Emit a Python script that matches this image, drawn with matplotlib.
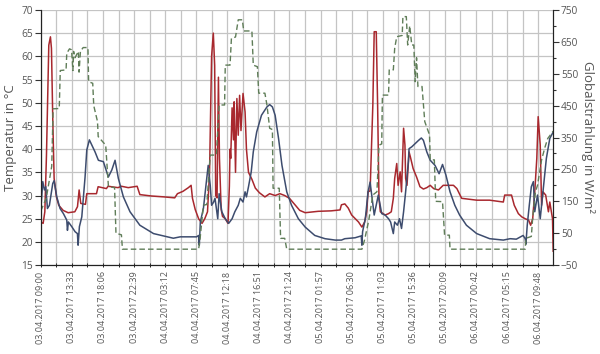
import numpy as np
import matplotlib
matplotlib.use('Agg')
import matplotlib.pyplot as plt
from matplotlib.ticker import MultipleLocator, FixedLocator

plt.rcParams['font.family'] = ['Open Sans', 'DejaVu Sans']

# time in hours since 03.04.2017 09:00
red_h = [0, 0.34, 0.59, 0.83, 1.17, 1.41, 1.56, 1.76, 1.95, 2.29,
         2.63, 3.27, 4.0, 4.98, 5.37, 5.61, 5.85, 6.54, 6.73, 8.15,
         8.39, 9.6, 9.85, 11.3, 11.8, 12.8, 14.1, 14.5, 16.2, 18.1,
         19.6, 20.0, 20.8, 21.6, 22.0, 22.2, 22.6, 23.1, 23.6, 24.0,
         24.4, 24.7, 25.0, 25.25, 25.45, 25.6, 25.8, 26.0, 26.15, 26.4,
         26.6, 27.0, 27.4, 27.6, 27.7, 27.8, 28.0, 28.2, 28.3, 28.5,
         28.7, 28.9, 29.1, 29.3, 29.6, 29.9, 30.1, 30.4, 30.9, 31.4,
         32.0, 32.8, 33.5, 34.3, 35.0, 35.7, 36.4, 37.2, 37.9, 38.7,
         40.6, 42.5, 43.8, 44.0, 44.5, 45.0, 45.5, 46.5, 47.0, 47.4,
         47.7, 47.9, 48.2, 48.6, 48.8, 49.1, 49.3, 49.5, 49.7, 50.4,
         50.9, 51.3, 51.6, 51.8, 52.1, 52.3, 52.6, 52.8, 53.1, 53.3,
         53.4, 53.6, 53.9, 54.1, 54.5, 55.0, 55.5, 56.0, 56.5, 57.0,
         57.5, 58.2, 58.9, 60.4, 60.9, 61.6, 63.8, 65.7, 67.7, 67.9,
         68.9, 69.3, 69.9, 70.4, 70.9, 71.4, 71.7, 72.0, 72.3, 72.6,
         72.8, 73.1, 73.3, 73.5, 73.9, 74.3, 74.5, 74.9, 75.0]
red_t = [24.3, 24.0, 26.5, 38.7, 62.4, 64.2, 61.7, 45.9, 33.7, 29.7,
         27.9, 26.8, 26.3, 26.5, 27.6, 31.2, 28.3, 28.1, 30.4, 30.4,
         31.9, 31.5, 32.0, 31.7, 32.0, 31.7, 32.0, 30.2, 29.9, 29.7,
         29.5, 30.4, 30.9, 31.7, 32.2, 29.4, 27.0, 25.0, 24.0, 25.0,
         26.5, 35.0, 60.0, 65.0, 58.0, 30.0, 29.5, 55.5, 38.0, 27.0,
         25.5, 25.0, 24.0, 32.0, 40.0, 38.0, 48.9, 42.0, 50.2, 35.0,
         50.9, 43.0, 51.6, 44.0, 52.0, 48.0, 40.0, 35.0, 33.5, 31.6,
         30.6, 29.7, 30.4, 30.0, 30.4, 30.0, 29.4, 28.0, 26.8, 26.3,
         26.6, 26.7, 26.9, 28.0, 28.2, 27.3, 25.8, 24.3, 23.2, 24.3,
         26.5, 30.8, 31.0, 49.5, 65.3, 65.3, 49.5, 29.4, 26.5, 25.8,
         26.1, 26.5, 29.4, 33.7, 36.9, 32.2, 35.1, 30.8, 44.5, 40.9,
         33.7, 32.2, 39.4, 38.3, 35.8, 34.0, 31.9, 31.4, 31.7, 32.2,
         31.5, 31.2, 32.2, 32.2, 31.5, 29.4, 29.0, 29.0, 28.6, 30.1,
         30.1, 27.9, 26.1, 25.4, 25.0, 24.7, 23.6, 25.0, 30.8, 38.0,
         47.0, 40.9, 27.9, 30.8, 30.1, 26.5, 28.6, 25.0, 18.0]

blue_h = [0, 0.29, 0.53, 0.73, 0.97, 1.26, 1.75, 1.95, 2.34, 2.82,
          3.31, 3.8, 3.9, 4.04, 4.53, 5.02, 5.36, 5.46, 5.65, 6.0,
          6.48, 6.73, 7.11, 7.46, 7.94, 8.43, 9.16, 9.89, 10.39, 10.87,
          11.35, 12.09, 13.06, 14.5, 16.5, 19.4, 20.4, 22.8, 23.1, 23.2,
          23.35, 23.8, 24.3, 24.5, 24.8, 25.0, 25.3, 25.5, 25.7, 25.9,
          26.1, 26.2, 26.5, 27.0, 27.5, 28.0, 28.4, 28.9, 29.2, 29.6,
          29.9, 30.1, 30.4, 30.8, 31.1, 31.6, 32.3, 33.1, 33.5, 33.9,
          34.3, 34.8, 35.3, 36.0, 36.7, 37.7, 38.7, 40.1, 41.6, 43.1,
          44.0, 44.5, 46.0, 46.9, 47.0, 47.1, 47.5, 47.9, 48.2, 48.8,
          49.2, 49.4, 49.9, 50.4, 50.9, 51.2, 51.6, 51.8, 52.2, 52.5,
          52.8, 53.1, 53.4, 53.8, 53.9, 54.3, 54.8, 55.3, 55.7, 56.0,
          56.5, 57.0, 57.7, 58.3, 58.8, 59.3, 59.9, 60.6, 61.3, 62.3,
          63.8, 65.7, 67.7, 68.7, 69.6, 70.6, 70.9, 71.0, 71.2, 71.5,
          71.8, 72.1, 72.3, 72.7, 73.1, 73.5, 74.0, 74.5, 75.0]
blue_t = [26.9, 33.0, 31.2, 31.9, 27.2, 27.9, 32.6, 33.2, 29.7, 27.2,
          26.1, 24.7, 22.5, 24.3, 23.3, 22.2, 21.8, 19.3, 23.3, 25.4,
          34.0, 39.8, 42.0, 40.9, 39.4, 37.6, 37.3, 34.0, 35.5, 37.6,
          33.7, 29.7, 26.5, 23.6, 21.8, 20.8, 21.1, 21.1, 21.4, 19.3,
          24.3, 27.2, 33.7, 36.5, 32.2, 27.9, 28.6, 29.4, 27.2, 25.0,
          30.4, 29.4, 26.5, 25.0, 24.0, 25.0, 26.5, 27.9, 29.4, 28.6,
          30.8, 29.7, 31.9, 35.1, 39.4, 43.7, 47.3, 49.1, 49.6, 49.1,
          47.3, 42.3, 36.5, 30.8, 27.9, 25.0, 23.2, 21.4, 20.7, 20.4,
          20.4, 20.7, 20.9, 21.3, 19.3, 22.2, 25.0, 30.8, 32.9, 25.8,
          28.6, 30.1, 26.1, 25.8, 25.0, 24.3, 21.8, 24.3, 23.6, 25.0,
          22.9, 26.5, 30.8, 37.3, 40.1, 40.5, 41.2, 41.9, 42.4, 41.9,
          39.4, 37.6, 36.5, 34.7, 36.7, 34.4, 30.8, 27.9, 25.8, 23.6,
          21.8, 20.7, 20.4, 20.7, 20.6, 21.4, 20.7, 19.5, 23.6, 27.9,
          31.9, 33.0, 26.5, 30.1, 25.0, 30.8, 38.0, 42.3, 43.7]

sun_h = [0, 0.8, 1.6, 1.8, 2.7, 2.85, 3.7, 3.8, 4.2, 4.5,
         4.7, 4.8, 5.0, 5.5, 5.6, 5.8, 6.2, 6.9, 7.0, 7.6,
         7.75, 8.3, 8.4, 9.5, 9.9, 10.8, 11.0, 11.8, 11.95, 23.1,
         23.3, 23.8, 24.3, 24.8, 25.7, 26.1, 26.9, 27.0, 27.7, 27.9,
         28.5, 28.9, 29.5, 29.7, 30.9, 31.1, 31.7, 31.9, 32.8, 33.1,
         33.5, 33.9, 34.0, 34.9, 35.1, 35.7, 36.0, 47.0, 47.4, 48.0,
         48.6, 49.2, 49.5, 49.9, 50.0, 50.9, 51.0, 51.6, 51.8, 52.1,
         52.9, 53.0, 53.5, 53.7, 54.0, 54.3, 54.6, 54.8, 55.0, 55.2,
         55.8, 56.2, 56.9, 57.0, 57.6, 57.8, 58.8, 59.1, 59.8, 59.9,
         70.9, 71.0, 71.8, 72.0, 72.4, 72.7, 73.3, 73.8, 74.2, 75.0]
sun_w = [120, 160, 260, 440, 441, 560, 562, 614, 628, 625,
         560, 620, 600, 620, 555, 620, 632, 632, 525, 520,
         450, 400, 353, 326, 196, 193, 50, 45, 0, 0,
         30, 138, 140, 295, 295, 452, 452, 577, 577, 661,
         665, 719, 719, 684, 684, 577, 572, 489, 489, 452,
         379, 375, 191, 191, 34, 34, 0, 0, 30, 90,
         170, 180, 326, 330, 483, 483, 562, 562, 630, 666,
         670, 729, 729, 640, 700, 640, 640, 525, 600, 510,
         510, 400, 358, 280, 280, 150, 149, 44, 44, 0,
         0, 34, 40, 100, 180, 200, 280, 320, 347, 370]

tick_labels = ['03.04.2017 09:00', '03.04.2017 13:33', '03.04.2017 18:06',
               '03.04.2017 22:39', '04.04.2017 03:12', '04.04.2017 07:45',
               '04.04.2017 12:18', '04.04.2017 16:51', '04.04.2017 21:24',
               '05.04.2017 01:57', '05.04.2017 06:30', '05.04.2017 11:03',
               '05.04.2017 15:36', '05.04.2017 20:09', '06.04.2017 00:42',
               '06.04.2017 05:15', '06.04.2017 09:48']
step = 4.55  # 4h33min

grey = '#555555'
fig = plt.figure(figsize=(6, 3.54), dpi=100)
ax = fig.add_axes([0.068, 0.251, 0.854, 0.721])
ax2 = ax.twinx()

ax.plot(red_h, red_t, color='#a8282e', lw=1.1, zorder=3)
ax.plot(blue_h, blue_t, color='#3d4c6e', lw=1.1, zorder=4)
ax2.plot(sun_h, sun_w, color='#5f7d58', lw=1.0, dashes=(4, 2.2))

ax.set_xlim(0, 75)
ax.set_ylim(15, 70)
ax2.set_ylim(-50, 750)

ax.xaxis.set_major_locator(FixedLocator([i * step for i in range(len(tick_labels))]))
ax.xaxis.set_minor_locator(FixedLocator([(i + 0.5) * step for i in range(len(tick_labels))]))
ax.set_xticklabels(tick_labels, rotation=90, fontsize=6.5, color=grey)
ax.yaxis.set_major_locator(MultipleLocator(5))
ax.tick_params(axis='y', labelsize=7.3, colors='#333333', length=4, width=0.8, pad=1.5)
ax.tick_params(axis='x', which='both', length=3, width=0.6, direction='inout', pad=3)
for lbl in ax.get_yticklabels():
    lbl.set_color(grey)

ax2.yaxis.set_major_locator(FixedLocator(np.arange(-50, 751, 100)))
ax2.yaxis.set_minor_locator(FixedLocator(np.arange(0, 701, 100)))
ax2.tick_params(axis='y', which='major', labelsize=7.3, colors='#333333', length=4, width=0.8, pad=1.5)
ax2.tick_params(axis='y', which='minor', length=2.5, width=0.8, colors='#333333')
for lbl in ax2.get_yticklabels():
    lbl.set_color(grey)

ax.grid(which='both', axis='x', color='#c4c4c4', lw=0.9)
ax.grid(which='major', axis='y', color='#c4c4c4', lw=0.9)
ax.set_axisbelow(True)

for a in (ax, ax2):
    a.spines['top'].set_visible(False)
    a.spines['left'].set_color('#222222')
    a.spines['right'].set_color('#222222')
    a.spines['bottom'].set_color('#222222')

ax.set_ylabel('Temperatur in °C', fontsize=9.5, color=grey, labelpad=3)
ax2.set_ylabel('Globalstrahlung in W/m²', fontsize=9.5, color=grey, rotation=-90, labelpad=12)

fig.savefig('out.png', dpi=100)
